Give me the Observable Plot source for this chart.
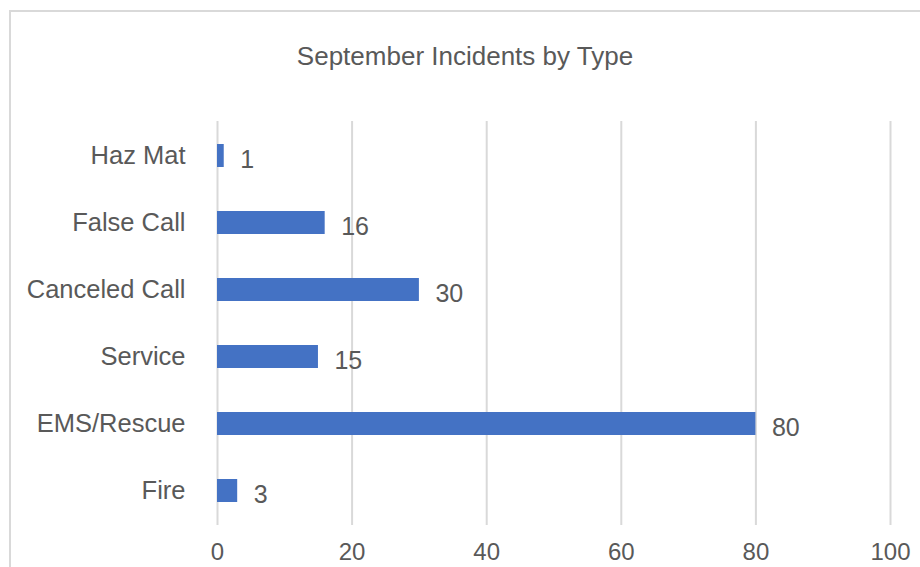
<!DOCTYPE html>
<html>
<head>
<meta charset="utf-8">
<script src="https://cdn.jsdelivr.net/npm/d3@7"></script>
<script src="https://cdn.jsdelivr.net/npm/@observablehq/plot@0.6"></script>
<style>
  html, body { margin: 0; padding: 0; background: #fff; }
  #wrap { position: relative; width: 920px; height: 567px; overflow: hidden; }
  #border { position: absolute; left: 9px; top: 10px; width: 1000px; height: 1000px;
            border-left: 2px solid #d9d9d9; border-top: 2px solid #d9d9d9; box-sizing: border-box; }
  #chart { position: absolute; left: 0; top: 0; }
</style>
</head>
<body>
<div id="wrap"><div id="border"></div><div id="chart"></div></div>
<script>
const categories = ["Haz Mat", "False Call", "Canceled Call", "Service", "EMS/Rescue", "Fire"];
const counts = [1, 16, 30, 15, 80, 3];
const xTicks = [0, 20, 40, 60, 80, 100];
const title = "September Incidents by Type";

const data = categories.map((c, i) => ({type: c, count: counts[i]}));
const textColor = "#595959";

const chart = Plot.plot({
  width: 920,
  height: 567,
  marginLeft: 217,
  marginRight: 30,
  marginTop: 121,
  marginBottom: 42,
  style: {fontFamily: "'Liberation Sans', Arial, sans-serif", fontSize: "25px", color: textColor, background: "transparent"},
  x: {domain: [0, 100], ticks: xTicks, label: null},
  y: {domain: categories, paddingInner: 0.66, paddingOuter: 0.33, label: null},
  marks: [
    Plot.gridX(xTicks, {stroke: "#d9d9d9", strokeOpacity: 1, strokeWidth: 2}),
    Plot.axisX({ticks: xTicks, tickSize: 0, tickPadding: 17, fontSize: 24, fill: textColor, label: null}),
    Plot.axisY({tickSize: 0, tickPadding: 32, fontSize: 25.5, fill: textColor, label: null}),
    Plot.barX(data, {x: "count", y: "type", fill: "#4472C4"}),
    Plot.text(data, {x: "count", y: "type", text: d => String(d.count), textAnchor: "start", dx: 16, dy: 4, fontSize: 25, fill: textColor}),
    Plot.text([title], {frameAnchor: "top", dx: -89, dy: -75, fontSize: 26, fill: textColor})
  ]
});
document.getElementById("chart").appendChild(chart);
</script>
</body>
</html>
